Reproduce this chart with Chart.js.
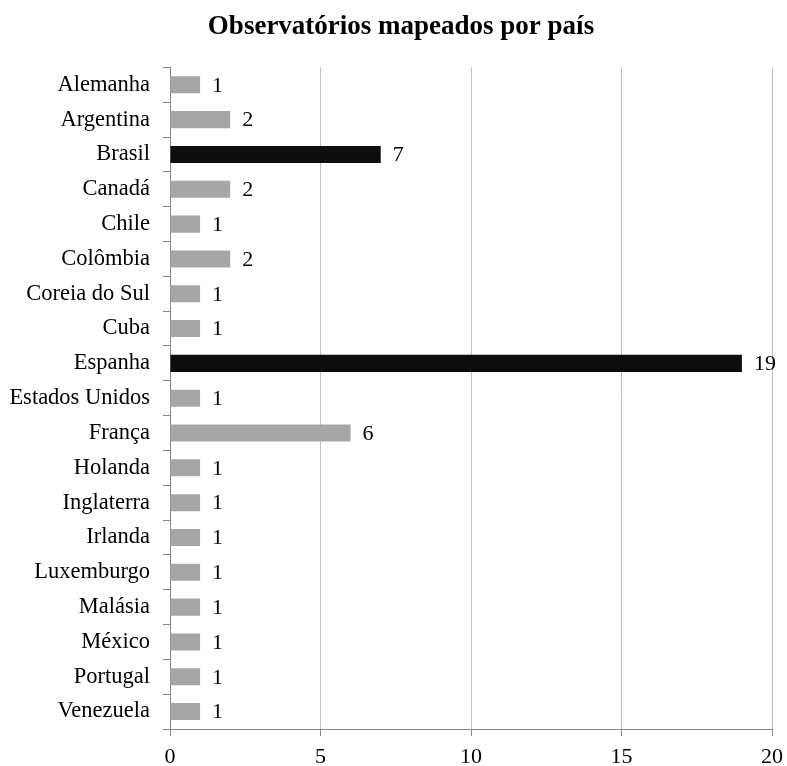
<!DOCTYPE html>
<html>
<head>
<meta charset="utf-8">
<title>Observatórios mapeados por país</title>
<script src="https://cdn.jsdelivr.net/npm/chart.js@4/dist/chart.umd.min.js"></script>
<style>
  html, body { margin: 0; padding: 0; background: #ffffff; }
  #wrap { width: 787px; height: 766px; }
</style>
</head>
<body>
<div id="wrap"><canvas id="chart" width="787" height="766"></canvas></div>
<script>
// Countries and number of mapped observatories
const countries = [
  'Alemanha', 'Argentina', 'Brasil', 'Canadá', 'Chile', 'Colômbia',
  'Coreia do Sul', 'Cuba', 'Espanha', 'Estados Unidos', 'França',
  'Holanda', 'Inglaterra', 'Irlanda', 'Luxemburgo', 'Malásia',
  'México', 'Portugal', 'Venezuela'
];
const observatories = [1, 2, 7, 2, 1, 2, 1, 1, 19, 1, 6, 1, 1, 1, 1, 1, 1, 1, 1];
// Countries drawn in the dark highlight colour
const highlighted = ['Brasil', 'Espanha'];
const xTicks = [0, 5, 10, 15, 20];

const SERIF = '"Liberation Serif", "Times New Roman", serif';
Chart.defaults.font.family = SERIF;
Chart.defaults.color = '#000000';

const barColors = countries.map(c => highlighted.includes(c) ? '#0d0d0d' : '#a6a6a6');

// Writes each bar's value just past its end
const valueLabels = {
  id: 'valueLabels',
  afterDatasetsDraw(chart) {
    const ctx = chart.ctx;
    const meta = chart.getDatasetMeta(0);
    ctx.save();
    ctx.font = '22px ' + SERIF;
    ctx.fillStyle = '#000000';
    ctx.textAlign = 'left';
    ctx.textBaseline = 'middle';
    meta.data.forEach((bar, i) => {
      ctx.fillText(String(chart.data.datasets[0].data[i]), bar.x + 12, bar.y + 1);
    });
    ctx.restore();
  }
};

// Centres the title over the span from the label column to the plot's right edge
const titleSpan = {
  id: 'titleSpan',
  afterLayout(chart) {
    if (chart.titleBlock) {
      chart.titleBlock.left = 30;
      chart.titleBlock.right = chart.chartArea.right;
    }
  }
};

new Chart(document.getElementById('chart'), {
  type: 'bar',
  data: {
    labels: countries,
    datasets: [{
      data: observatories,
      backgroundColor: barColors,
      borderWidth: 0,
      barPercentage: 0.49,
      categoryPercentage: 1
    }]
  },
  options: {
    indexAxis: 'y',
    responsive: false,
    animation: false,
    layout: { padding: { top: 0, right: 15, bottom: 0, left: 0 } },
    plugins: {
      legend: { display: false },
      tooltip: { enabled: false },
      title: {
        display: true,
        text: 'Observatórios mapeados por país',
        font: { family: SERIF, size: 27, weight: 'bold' },
        color: '#000000',
        padding: { top: 11, bottom: 24 }
      }
    },
    scales: {
      x: {
        min: 0,
        max: 20,
        afterBuildTicks(scale) {
          scale.ticks = xTicks.map(v => ({ value: v }));
        },
        afterFit(scale) {
          scale.height = 37;
          scale.paddingLeft = 0;
          scale.paddingRight = 0;
        },
        grid: {
          color: '#bfbfbf',
          lineWidth: 1,
          drawTicks: true,
          tickLength: 7,
          tickColor: '#868686'
        },
        border: { display: true, color: '#868686', width: 1 },
        ticks: {
          font: { family: SERIF, size: 22 },
          color: '#000000',
          padding: 8,
          maxRotation: 0
        }
      },
      y: {
        afterFit(scale) { scale.width = 170; },
        grid: {
          drawOnChartArea: false,
          drawTicks: true,
          tickLength: 7,
          tickColor: '#868686',
          offset: true
        },
        border: { display: true, color: '#868686', width: 1 },
        ticks: {
          font: { family: SERIF, size: 22.5 },
          color: '#000000',
          padding: 13,
          autoSkip: false
        }
      }
    }
  },
  plugins: [valueLabels, titleSpan]
});
</script>
</body>
</html>
